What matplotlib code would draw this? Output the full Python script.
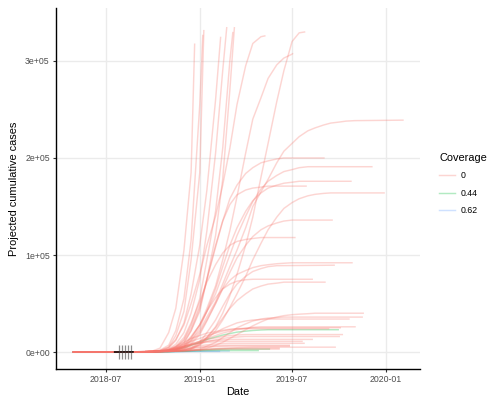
import matplotlib
matplotlib.use("Agg")
import matplotlib.pyplot as plt
import matplotlib.dates as mdates
from matplotlib.lines import Line2D
import pandas as pd

plt.rcParams['font.family'] = ['Liberation Sans', 'DejaVu Sans']

# dates at which each simulated run is tabulated
grid_dates = pd.to_datetime([
    "2018-04-27", "2018-08-01", "2018-09-01", "2018-09-15", "2018-10-01", "2018-10-15",
    "2018-11-01", "2018-11-15", "2018-12-01", "2018-12-15", "2019-01-01", "2019-01-15",
    "2019-02-01", "2019-02-15", "2019-03-01", "2019-03-15", "2019-04-01", "2019-04-15",
    "2019-05-01", "2019-05-15", "2019-06-01", "2019-06-15", "2019-07-01", "2019-07-15",
    "2019-08-01", "2019-08-15", "2019-09-01", "2019-09-15", "2019-10-01", "2019-10-15",
    "2019-11-01", "2019-11-15", "2019-12-01", "2019-12-15", "2020-01-01", "2020-01-15",
])

# projected cumulative cases (thousands) of each run on grid_dates
run_cases = [
    [0, 0.1, 0.3, 0.6, 1.2, 4, 20, 45, 105, 185],
    [0, 0.1, 0.3, 0.5, 0.8, 2, 7, 22, 55, 115, 255],
    [0, 0.1, 0.3, 0.5, 0.7, 1.5, 5, 17, 42, 95, 185],
    [0, 0.1, 0.2, 0.4, 0.6, 1, 4, 12, 30, 60, 110, 167, 260],
    [0, 0.1, 0.2, 0.4, 0.6, 1, 3, 8, 20, 40, 75, 125, 205, 290],
    [0, 0.1, 0.2, 0.3, 0.5, 0.8, 2, 5, 13, 28, 55, 95, 145, 210, 300],
    [0, 0.1, 0.2, 0.3, 0.5, 0.8, 1.5, 4, 10, 22, 42, 75, 120, 178, 270],
    [0, 0.1, 0.2, 0.3, 0.5, 1.5, 5, 13, 28, 50, 80, 110, 140, 172, 210, 255, 295, 318, 325],
    [0, 0.1, 0.2, 0.3, 0.4, 0.6, 1, 3, 7, 15, 28, 45, 68, 95, 125, 160, 205, 240, 262, 282,
     296, 303, 307],
    [0, 0.1, 0.2, 0.3, 0.4, 0.5, 0.7, 1, 2, 4, 8, 15, 26, 40, 58, 80, 110, 139, 180, 215,
     258, 290, 320, 329],
    [0, 0.1, 0.2, 0.3, 0.5, 0.8, 2, 5, 12, 25, 48, 75, 108, 135, 158, 172, 184, 190, 195, 197,
     199, 200],
    [0, 0.1, 0.2, 0.3, 0.4, 0.6, 1.5, 4, 8, 16, 28, 42, 60, 80, 100, 120, 140, 155, 168, 176,
     182, 186, 188, 190, 191],
    [0, 0.1, 0.2, 0.3, 0.4, 0.6, 1, 3, 6, 12, 22, 36, 52, 70, 88, 105, 128, 150, 165, 178,
     195, 207, 215, 222, 228, 231, 234, 236, 237, 238, 238.5],
    [0, 0.1, 0.2, 0.3, 0.4, 0.6, 1.2, 2.5, 5, 12, 25, 42, 65, 88, 110, 128, 145, 156, 164, 169,
     172, 174, 175, 176],
    [0, 0.1, 0.2, 0.3, 0.5, 0.8, 1.5, 3, 9, 22, 45, 75, 110, 135, 152, 162, 167, 169, 170, 171],
    [0, 0.1, 0.2, 0.3, 0.4, 0.5, 0.8, 1.2, 2, 3, 7, 13, 22, 33, 46, 60, 78, 95, 112, 126,
     139, 148, 154, 158, 161, 162.5, 163.5, 164],
    [0, 0.1, 0.2, 0.3, 0.4, 0.6, 1, 2, 5, 10, 20, 33, 50, 66, 82, 97, 110, 119, 126, 130,
     133, 135, 136],
    [0, 0.1, 0.2, 0.3, 0.5, 0.8, 2, 6, 15, 30, 52, 72, 90, 102, 110, 114, 116, 117, 118],
    [0, 0.1, 0.2, 0.3, 0.4, 0.6, 1, 1.8, 3, 8, 18, 32, 50, 65, 74, 80, 84, 87, 89, 90,
     91, 91.5, 92],
    [0, 0.1, 0.2, 0.3, 0.4, 0.5, 0.8, 1.3, 2.2, 4, 10, 20, 33, 47, 60, 70, 78, 83, 86, 88, 89],
    [0, 0.1, 0.2, 0.3, 0.4, 0.6, 1, 2, 6, 14, 28, 42, 56, 65, 70, 73, 74.5, 75],
    [0, 0.1, 0.2, 0.3, 0.4, 0.5, 0.7, 1, 1.8, 3, 8, 15, 25, 35, 45, 53, 60, 65, 68, 70, 71, 72],
    [0, 0.1, 0.2, 0.3, 0.4, 0.5, 0.6, 0.8, 1.2, 1.6, 2, 4, 7, 10, 14, 18, 23, 27, 31, 34,
     36, 37.5, 38.5, 39, 39.5, 40],
    [0, 0.1, 0.2, 0.3, 0.4, 0.5, 0.6, 0.8, 1, 1.5, 3, 6, 10, 15, 20, 25, 29, 32, 34, 35, 35.5, 36],
    [0, 0.1, 0.2, 0.3, 0.4, 0.6, 1, 2, 4, 7, 11, 15, 20, 24, 27, 30, 32, 33, 33.5, 34],
    [0, 0.1, 0.2, 0.3, 0.5, 0.8, 1.5, 3, 5, 8, 11, 14, 17, 19.5, 21.5, 23, 24.5, 25.5, 26],
    [0, 0.1, 0.2, 0.3, 0.5, 1, 2.5, 5, 8, 11, 14, 17, 19.5, 21.5, 23, 24, 24.5, 25],
    [0, 0.1, 0.2, 0.3, 0.6, 1.2, 3, 6, 10, 14, 17, 19.5, 21, 22.5, 23.5, 24],
    [0, 0.1, 0.2, 0.3, 0.5, 0.9, 1.8, 3.5, 6, 8.5, 11, 13, 14.5, 16, 17, 17.5, 18],
    [0, 0.1, 0.2, 0.3, 0.4, 0.7, 1.4, 2.8, 5, 7, 9, 11, 12.5, 14, 15, 15.5, 16],
    [0, 0.1, 0.2, 0.3, 0.5, 1, 2, 4, 6, 8, 9.5, 11, 12, 12.5, 13],
    [0, 0.1, 0.2, 0.3, 0.5, 1, 2.2, 4, 6, 7.5, 9, 10, 10.5, 11],
    [0, 0.1, 0.2, 0.3, 0.4, 0.7, 1.5, 2.8, 4.2, 5.5, 6.5, 7.5, 8.2, 8.7, 9],
    [0, 0.1, 0.2, 0.3, 0.4, 0.6, 1.2, 2.2, 3.3, 4.3, 5.2, 6, 6.5, 6.8, 7],
    [0, 0.1, 0.2, 0.3, 0.4, 0.5, 1, 1.8, 2.7, 3.6, 4.4, 5, 5.5, 5.8, 6],
    [0, 0.1, 0.15, 0.2, 0.3, 0.4, 0.6, 0.9, 1.3, 1.8, 2.3, 2.8, 3.3, 3.7, 4.1, 4.4, 4.7, 4.9, 5],
    [0, 0.1, 0.15, 0.2, 0.3, 0.4, 0.7, 1.1, 1.6, 2.1, 2.6, 3, 3.4, 3.7, 3.9, 4],
    [0, 0.05, 0.1, 0.15, 0.2, 0.3, 0.5, 0.8, 1.2, 1.6, 2, 2.3, 2.6, 2.8, 2.9, 3],
    # coverage 0.44
    [0, 0.1, 0.2, 0.3, 0.4, 0.6, 1.2, 2.5, 4.5, 7, 10, 13, 15.5, 17.5, 19, 20.5, 21.5, 22.2,
     22.7, 23],
    [0, 0.05, 0.1, 0.15, 0.2, 0.3, 0.5, 0.8, 1.2, 1.6, 2, 2.4, 2.7, 2.9, 3],
    [0, 0.05, 0.08, 0.1, 0.15, 0.2, 0.3, 0.5, 0.7, 0.9, 1.1, 1.3, 1.4, 1.5],
    # coverage 0.62
    [0, 0.05, 0.08, 0.1, 0.15, 0.2, 0.3, 0.45, 0.6, 0.75, 0.9, 1],
    [0, 0.05, 0.08, 0.1, 0.12, 0.18, 0.25, 0.35, 0.45, 0.55, 0.6],
]
run_end = pd.to_datetime([
    "2018-12-22", "2019-01-07", "2019-01-09", "2019-02-11", "2019-02-23", "2019-03-07",
    "2019-03-10", "2019-05-10", "2019-07-03", "2019-07-27", "2019-09-03", "2019-12-06",
    "2020-02-05", "2019-10-26", "2019-07-30", "2019-12-30", "2019-09-19", "2019-07-08",
    "2019-10-28", "2019-09-23", "2019-08-11", "2019-09-05", "2019-11-19", "2019-11-17",
    "2019-10-22", "2019-11-03", "2019-10-05", "2019-09-12", "2019-10-09", "2019-10-03",
    "2019-08-11", "2019-07-22", "2019-07-26", "2019-06-27", "2019-06-27", "2019-09-25",
    "2019-06-07", "2019-06-07",
    "2019-10-01", "2019-05-19", "2019-04-27",
    "2019-03-01", "2019-02-10",
])
run_final = [
    318, 327, 332, 325, 335, 330, 335, 326, 308, 330, 200, 191, 239, 176, 171, 164, 136, 118,
    92, 89.5, 75, 72, 40, 36, 34, 26, 25, 24, 18, 16, 13, 11, 9, 7, 6, 5, 4, 3,
    23, 3, 1.5,
    1, 0.6,
]
run_coverage = ["0"] * 38 + ["0.44"] * 3 + ["0.62"] * 2

# reported cases and observation days
obs_dates = pd.to_datetime(["2018-07-18", "2018-07-25", "2018-08-01", "2018-08-08",
                            "2018-08-15", "2018-08-23"])
obs_cases = [5, 20, 45, 70, 90, 110]
tick_dates = pd.to_datetime(["2018-07-26", "2018-08-01", "2018-08-07", "2018-08-13",
                             "2018-08-19"])

coverage_levels = ["0", "0.44", "0.62"]
coverage_colors = {"0": "#F8766D", "0.44": "#00BA38", "0.62": "#619CFF"}

fig = plt.figure(figsize=(4.94, 3.96), dpi=100)
ax = fig.add_axes([56 / 494, 1 - 369 / 396, 364 / 494, 361 / 396])

draw_order = [c for c in ("0.62", "0.44", "0")]
for level in draw_order:
    for vals, end, final, cov in zip(run_cases, run_end, run_final, run_coverage):
        if cov != level:
            continue
        xs = list(grid_dates[:len(vals)]) + [end]
        ys = [v * 1000 for v in vals] + [final * 1000]
        ax.plot(xs, ys, color=coverage_colors[cov], alpha=0.3, lw=1.05,
                solid_capstyle='butt', zorder=2)

ax.plot(obs_dates, obs_cases, color='black', lw=1.1, zorder=3)
ax.plot(tick_dates, [0] * len(tick_dates), ls='none', marker='|', markersize=10,
        mew=0.9, color='#444444', alpha=0.6, zorder=4)

ax.set_xlim(pd.Timestamp("2018-03-25"), pd.Timestamp("2020-03-08"))
ax.set_ylim(-17500, 354600)

ax.set_xticks(pd.to_datetime(["2018-07-01", "2019-01-01", "2019-07-01", "2020-01-01"]))
ax.xaxis.set_major_formatter(mdates.DateFormatter("%Y-%m"))
ax.set_yticks([0, 100000, 200000, 300000])
ax.set_yticklabels(["0e+00", "1e+05", "2e+05", "3e+05"])

ax.grid(True, color='#EBEBEB', lw=1.0, zorder=0)
ax.set_axisbelow(True)
for side in ('top', 'right'):
    ax.spines[side].set_visible(False)
for side in ('left', 'bottom'):
    ax.spines[side].set_linewidth(1.0)
    ax.spines[side].set_color('black')
ax.tick_params(axis='both', length=2.5, width=0.8, color='#333333',
               labelsize=6.3, labelcolor='#4D4D4D', pad=2)

ax.set_xlabel("Date", fontsize=7.9, labelpad=2)
ax.set_ylabel("Projected cumulative cases", fontsize=7.9, labelpad=4)

handles = [Line2D([], [], color=coverage_colors[c], alpha=0.3, lw=1.05) for c in coverage_levels]
leg = ax.legend(handles, coverage_levels, title="Coverage", loc='upper left',
                bbox_to_anchor=(439 / 494, 1 - 153 / 396), bbox_transform=fig.transFigure,
                frameon=False, fontsize=6.3, title_fontsize=7.9, handlelength=1.8,
                handletextpad=0.7, labelspacing=0.95, borderpad=0, borderaxespad=0,
                alignment='left')

fig.savefig("out.png", dpi=100)
